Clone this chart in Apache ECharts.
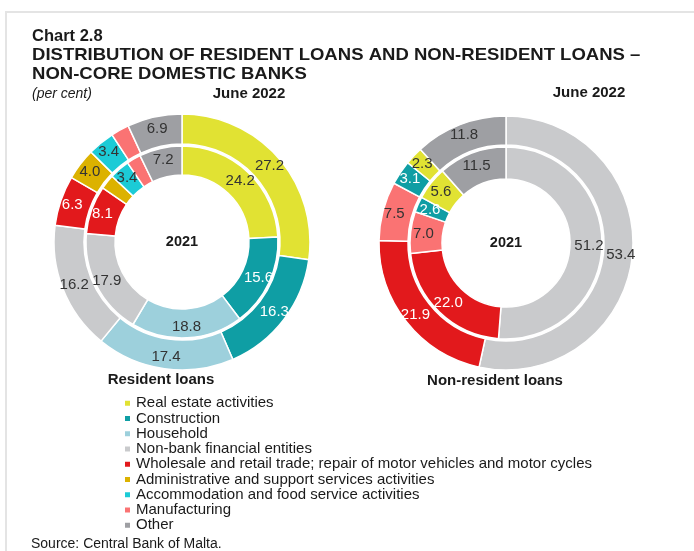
<!DOCTYPE html>
<html>
<head>
<meta charset="utf-8">
<script src="https://cdn.jsdelivr.net/npm/echarts@6/dist/echarts.min.js"></script>
<style>
  html, body { margin: 0; padding: 0; background: #fff; }
  #chart { width: 694px; height: 551px; }
</style>
</head>
<body>
<div id="chart"></div>
<script>
// Sector categories (legend order)
const sectors = [
  'Real estate activities',
  'Construction',
  'Household',
  'Non-bank financial entities',
  'Wholesale and retail trade; repair of motor vehicles and motor cycles',
  'Administrative and support services activities',
  'Accommodation and food service activities',
  'Manufacturing',
  'Other'
];
const sectorColors = ['#e1e233', '#0f9ea4', '#9dd0dc', '#c9cacc', '#e2191c', '#dcb200', '#1ccbd6', '#fa7373', '#9e9fa3'];

// Resident loans, shares in per cent
const residentSectors = sectors;
const resident2021 = [24.2, 15.6, 18.8, 17.9, 8.1, 2.5, 3.4, 2.4, 7.2];
const residentJun2022 = [27.2, 16.3, 17.4, 16.2, 6.3, 4.0, 3.4, 2.3, 6.9];

// Non-resident loans, shares in per cent
const nonResidentSectors = [
  'Non-bank financial entities',
  'Wholesale and retail trade; repair of motor vehicles and motor cycles',
  'Manufacturing',
  'Construction',
  'Real estate activities',
  'Other'
];
const nonResident2021 = [51.2, 22.0, 7.0, 2.6, 5.6, 11.5];
const nonResidentJun2022 = [53.4, 21.9, 7.5, 3.1, 2.3, 11.8];

const whiteLabelSectors = ['Construction', 'Wholesale and retail trade; repair of motor vehicles and motor cycles'];
const FONT = 'Liberation Sans, Arial, Helvetica, sans-serif';
const INK = '#1a1a1a';

function colorOf(name) { return sectorColors[sectors.indexOf(name)]; }

function ringData(names, values) {
  return names.map((n, i) => ({
    name: n,
    value: values[i],
    itemStyle: { color: colorOf(n) },
    label: { color: whiteLabelSectors.includes(n) ? '#ffffff' : '#333333' }
  }));
}

function ring(center, radius, names, values) {
  return {
    type: 'pie',
    center: center,
    radius: radius,
    startAngle: 90,
    clockwise: true,
    avoidLabelOverlap: false,
    silent: true,
    animation: false,
    itemStyle: { borderColor: '#ffffff', borderWidth: 1.5 },
    label: {
      show: true,
      position: 'inside',
      fontFamily: FONT,
      fontSize: 15,
      formatter: p => p.value.toFixed(1)
    },
    labelLine: { show: false },
    data: ringData(names, values)
  };
}

// Heading line, drawn slightly widened
function heading(text, y, size) {
  return {
    type: 'text', x: 32, y: y, scaleX: 1.09, originX: 0,
    style: { text: text, font: 'bold ' + size + 'px ' + FONT, fill: INK, verticalAlign: 'middle' }
  };
}

const leftCenter = [182, 242];
const rightCenter = [506, 243];

const chart = echarts.init(document.getElementById('chart'), null, { renderer: 'canvas' });
chart.setOption({
  backgroundColor: '#ffffff',
  animation: false,
  graphic: [
    { type: 'rect', shape: { x: 6, y: 12, width: 700, height: 560 }, style: { fill: 'none', stroke: '#e4e4e4', lineWidth: 2 }, silent: true },
    { type: 'text', x: 32, y: 36.5, style: { text: 'Chart 2.8', font: 'bold 16.5px ' + FONT, fill: INK, verticalAlign: 'middle' } },
    heading('DISTRIBUTION OF RESIDENT LOANS AND NON-RESIDENT LOANS \u2013', 55.5, 17),
    heading('NON-CORE DOMESTIC BANKS', 74, 17),
    { type: 'text', x: 32, y: 94, style: { text: '(per cent)', font: 'italic 14px ' + FONT, fill: INK, verticalAlign: 'middle' } },
    { type: 'text', x: 249, y: 94, style: { text: 'June 2022', font: 'bold 15px ' + FONT, fill: INK, align: 'center', verticalAlign: 'middle' } },
    { type: 'text', x: 589, y: 93, style: { text: 'June 2022', font: 'bold 15px ' + FONT, fill: INK, align: 'center', verticalAlign: 'middle' } },
    { type: 'text', x: leftCenter[0], y: leftCenter[1], style: { text: '2021', font: 'bold 14.5px ' + FONT, fill: INK, align: 'center', verticalAlign: 'middle' } },
    { type: 'text', x: rightCenter[0], y: rightCenter[1], style: { text: '2021', font: 'bold 14.5px ' + FONT, fill: INK, align: 'center', verticalAlign: 'middle' } },
    { type: 'text', x: 161, y: 380, style: { text: 'Resident loans', font: 'bold 15px ' + FONT, fill: INK, align: 'center', verticalAlign: 'middle' } },
    { type: 'text', x: 495, y: 381, style: { text: 'Non-resident loans', font: 'bold 15px ' + FONT, fill: INK, align: 'center', verticalAlign: 'middle' } },
    { type: 'text', x: 31, y: 544, style: { text: 'Source: Central Bank of Malta.', font: '14px ' + FONT, fill: INK, verticalAlign: 'middle' } }
  ],
  legend: {
    orient: 'vertical',
    left: 123,
    top: 395.5,
    padding: 0,
    icon: 'rect',
    itemWidth: 7,
    itemHeight: 7,
    itemGap: 0,
    selectedMode: false,
    data: sectors,
    textStyle: { fontFamily: FONT, fontSize: 15, color: INK, lineHeight: 15.25 }
  },
  series: [
    ring(leftCenter, [67, 96], residentSectors, resident2021),
    ring(leftCenter, [98, 128], residentSectors, residentJun2022),
    ring(rightCenter, [64, 96], nonResidentSectors, nonResident2021),
    ring(rightCenter, [98, 127], nonResidentSectors, nonResidentJun2022)
  ]
});
</script>
</body>
</html>
